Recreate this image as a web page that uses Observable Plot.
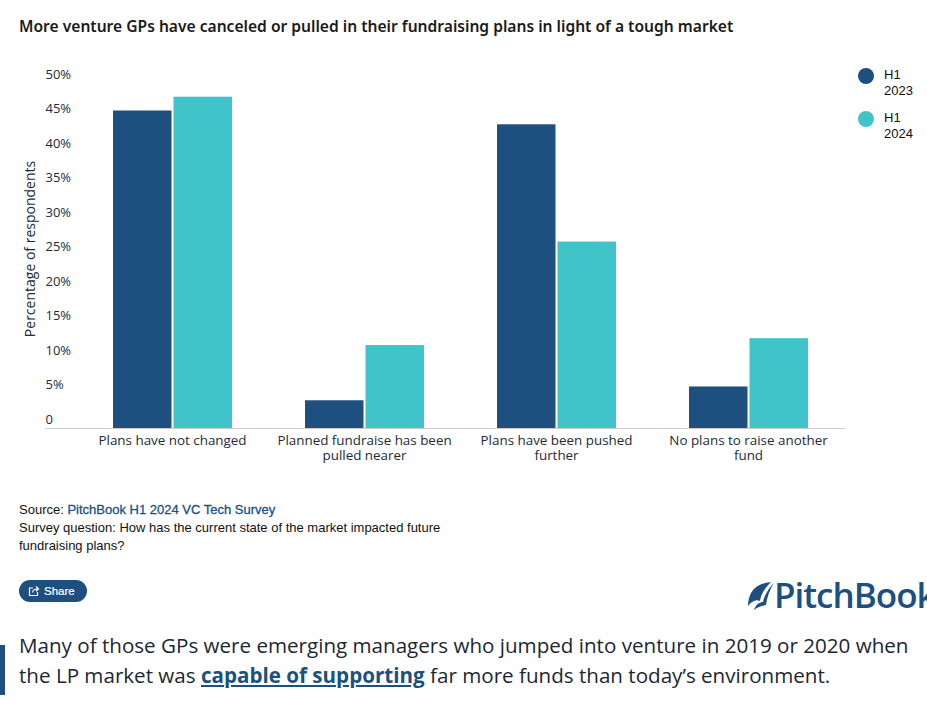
<!DOCTYPE html>
<html><head><meta charset="utf-8">
<script src="https://cdn.jsdelivr.net/npm/d3@7"></script>
<script src="https://cdn.jsdelivr.net/npm/@observablehq/plot@0.6"></script>
<style>
html,body{margin:0;padding:0;background:#fff;overflow:hidden}
#page{position:relative;width:927px;height:702px;overflow:hidden;font-family:"Liberation Sans",Arial,sans-serif;color:#111}
#title{position:absolute;left:19px;top:15px;font:600 15.6px "Noto Sans",sans-serif;color:#1a1a1a;white-space:nowrap}
#chart{position:absolute;left:0;top:60px}
.leg{position:absolute;left:884px;font-size:13px;line-height:16px;color:#111}
.dot{position:absolute;left:858px;width:16px;height:16px;border-radius:50%}
#src{position:absolute;left:19px;top:501px;font-size:13px;line-height:18px;width:440px;color:#111}
#src b{font-weight:400;color:#1d4f7f;-webkit-text-stroke:.3px #1d4f7f}
#share{position:absolute;left:19px;top:580px;width:68px;height:22px;border-radius:11px;background:#1d4f7f;color:#fff;font-size:11.5px;line-height:23px;-webkit-text-stroke:.2px #fff}
#share span{position:absolute;left:25px;top:0}
#share svg{position:absolute;left:9px;top:5px}
#logo{position:absolute;left:747px;top:578px;color:#1d4f7f;font:600 35px "Open Sans",sans-serif;line-height:36px;white-space:nowrap}
#logo span{position:absolute;left:27px;top:-1px;letter-spacing:-1px}
#bar{position:absolute;left:0;top:645px;width:5px;height:50px;background:#1d4f7f}
#body{position:absolute;left:19px;top:630px;font:400 20.6px "Open Sans",sans-serif;line-height:30px;color:#1c2733;white-space:nowrap}
#body a{color:#1d4f7f;font-weight:700;text-decoration:underline}
</style></head><body>
<div id="page">
<div id="title">More venture GPs have canceled or pulled in their fundraising plans in light of a tough market</div>
<div id="chart"></div>
<div class="dot" style="top:68px;background:#1d4f7f"></div><div class="leg" style="top:67px">H1<br>2023</div>
<div class="dot" style="top:111px;background:#40c4c9"></div><div class="leg" style="top:110px">H1<br>2024</div>
<div id="src">Source: <b>PitchBook H1 2024 VC Tech Survey</b><br>Survey question: How has the current state of the market impacted future fundraising plans?</div>
<div id="share"><svg width="12" height="12" viewBox="0 0 12 12" fill="none" stroke="#fff" stroke-width="1.2"><path d="M5 3H1.5V10.5H9.5V7"/><path d="M4.5 7.5C5 5 7 4 9 4M8 1.5L10.5 4L8 6.2"/></svg><span>Share</span></div>
<div id="logo"><svg width="28" height="30" viewBox="0 0 28 30" style="position:absolute;left:0;top:3px" fill="#1d4f7f"><path d="M24 1C15 2 8 5 4 12C2 16 1 20 1 25C5 20 9 18 13 20C14 13 18 7 24 1Z"/><path d="M27 2C22 7 18 13 16 21C13 21 9 23 7 29C10 26 14 25 19 24C20 16 23 8 27 2Z"/></svg><span>PitchBook</span></div>
<div id="bar"></div>
<div id="body">Many of those GPs were emerging managers who jumped into venture in 2019 or 2020 when<br>the LP market was <a>capable of supporting</a> far more funds than today’s environment.</div>
</div>
<script>
const categories = ["Plans have not changed","Planned fundraise has been pulled nearer","Plans have been pushed further","No plans to raise another fund"];
const tickLabels = ["Plans have not changed","Planned fundraise has been\npulled nearer","Plans have been pushed\nfurther","No plans to raise another\nfund"];
const h1_2023 = [45,3,43,5];
const h1_2024 = [47,11,26,12];
const yTicks = [0,5,10,15,20,25,30,35,40,45,50];
const axisFont = '"Open Sans",sans-serif';
const base = -1.02;
const rows = v => categories.map((c,i)=>({c,v:v[i]}));
const chart = Plot.plot({
  width:927,height:410,
  marginTop:15,marginBottom:42,marginLeft:45,marginRight:82,
  style:{fontFamily:axisFont,fontSize:"13px",color:"#222b3a",background:"transparent"},
  x:{domain:categories,range:[76,844],padding:0,label:null},
  y:{domain:[base,50],range:[368,16],label:null},
  marks:[
    Plot.barY(rows(h1_2023),{x:"c",y1:base,y2:"v",fill:"#1d4f7f",insetLeft:37,insetRight:96.5}),
    Plot.barY(rows(h1_2024),{x:"c",y1:base,y2:"v",fill:"#40c4c9",insetLeft:97.5,insetRight:36}),
    Plot.ruleY([base],{stroke:"#cccccc",strokeWidth:1}),
    Plot.axisY({ticks:yTicks,tickSize:0,tickPadding:0,textAnchor:"start",label:null,dy:-2,tickFormat:d=>d===0?"0":d+"%",fontSize:13}),
    Plot.axisX({tickSize:0,tickPadding:6,label:null,lineHeight:1.12,fontSize:13.4,tickFormat:(d)=>tickLabels[categories.indexOf(d)]}),
    Plot.text(["Percentage of respondents"],{frameAnchor:"left",textAnchor:"middle",dx:-15,y:[25],rotate:-90,fontSize:14,fill:"#222b3a"})
  ]
});
document.getElementById("chart").append(chart);
</script>
</body></html>
